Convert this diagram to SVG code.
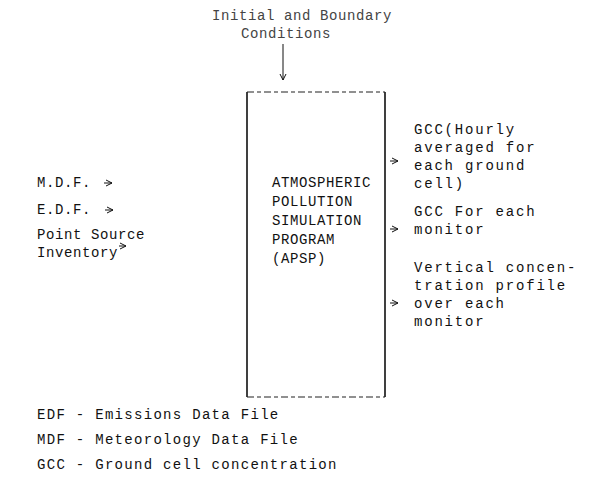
<svg xmlns="http://www.w3.org/2000/svg" width="590" height="491" viewBox="0 0 590 491">
  <style>
    text { font-family: "Liberation Mono", "Courier New", monospace; font-size: 14px; fill: #111; letter-spacing: 0.6px; }
    .wide { letter-spacing: 1.8px; }
    .mid { letter-spacing: 1.3px; }
    .faint { fill: #444; }
    .side { stroke: #111; stroke-width: 1.6; fill: none; }
    .dash { stroke: #222; stroke-width: 1.2; fill: none; stroke-dasharray: 7 3 4 3; }
    .edge { stroke: #111; stroke-width: 1; fill: none; }
  </style>
  <defs>
    <marker id="arr" markerWidth="8" markerHeight="8" refX="7" refY="4" orient="auto" markerUnits="userSpaceOnUse">
      <path d="M1,1 L7,4 L1,7" fill="none" stroke="#111" stroke-width="1"/>
    </marker>
  </defs>

  <g id="conditions">
    <text class="faint" x="302" y="20" text-anchor="middle">Initial and Boundary</text>
    <text class="faint" x="286" y="38" text-anchor="middle">Conditions</text>
  </g>

  <g id="apsp">
    <!-- typed frame: solid sides, broken top and bottom rules -->
    <path class="side" d="M247,92 V397 M385,92 V397"/>
    <path class="dash" d="M247,92 H385"/>
    <path class="dash" d="M247,397 H385"/>
    <text x="272" y="187">ATMOSPHERIC</text>
    <text x="272" y="206">POLLUTION</text>
    <text x="272" y="225">SIMULATION</text>
    <text x="272" y="244">PROGRAM</text>
    <text x="272" y="263">(APSP)</text>
  </g>

  <g id="inputs">
    <text x="37" y="187">M.D.F.</text>
    <text x="37" y="214">E.D.F.</text>
    <text x="37" y="239">Point Source</text>
    <text x="37" y="257">Inventory</text>
  </g>

  <g id="outputs">
    <text class="wide" x="414" y="134">GCC(Hourly</text>
    <text class="wide" x="414" y="152">averaged for</text>
    <text class="wide" x="414" y="170">each ground</text>
    <text class="wide" x="414" y="188">cell)</text>
    <text class="wide" x="414" y="216">GCC For each</text>
    <text class="wide" x="414" y="234">monitor</text>
    <text class="wide" x="414" y="272">Vertical concen-</text>
    <text class="wide" x="414" y="290">tration profile</text>
    <text class="wide" x="414" y="308">over each</text>
    <text class="wide" x="414" y="326">monitor</text>
  </g>

  <g id="legend">
    <text class="mid" x="37" y="419">EDF - Emissions Data File</text>
    <text class="mid" x="37" y="444">MDF - Meteorology Data File</text>
    <text class="mid" x="37" y="469">GCC - Ground cell concentration</text>
  </g>

  <g id="connectors">
    <line class="edge" x1="283" y1="44" x2="283" y2="80" marker-end="url(#arr)"/>
    <line class="edge" x1="104" y1="183" x2="112" y2="183" marker-end="url(#arr)"/>
    <line class="edge" x1="105" y1="210" x2="113" y2="210" marker-end="url(#arr)"/>
    <line class="edge" x1="119" y1="246" x2="126" y2="246" marker-end="url(#arr)"/>
    <line class="edge" x1="390" y1="161" x2="398" y2="161" marker-end="url(#arr)"/>
    <line class="edge" x1="390" y1="229" x2="398" y2="229" marker-end="url(#arr)"/>
    <line class="edge" x1="390" y1="303" x2="398" y2="303" marker-end="url(#arr)"/>
  </g>
</svg>
